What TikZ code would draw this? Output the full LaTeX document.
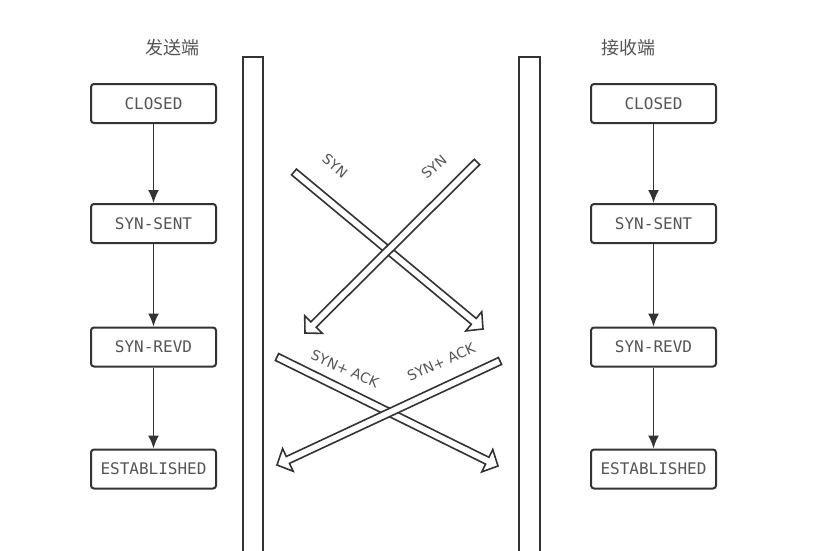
\documentclass[tikz,border=0pt]{standalone}
\usepackage{fontspec}
\setmainfont{DejaVu Sans}
\newfontfamily\boxfont{DejaVu Sans Mono}
\newfontfamily\cjkfont{Noto Sans CJK SC}
\usetikzlibrary{calc,arrows.meta}
\definecolor{ink}{HTML}{333333}
\definecolor{txt}{HTML}{555555}
\tikzset{
  statebox/.style={draw=ink,line width=2pt,rounded corners=3pt,fill=white,
    minimum width=125pt,minimum height=39pt,inner sep=0pt,
    font=\boxfont\fontsize{16}{16}\selectfont,text=txt},
  bar/.style={draw=ink,line width=1.8pt},
  flow/.style={draw=ink,line width=1.8pt,-{Latex[length=13pt,width=11pt]}},
  title/.style={font=\cjkfont\fontsize{18}{18}\selectfont,text=txt},
  msg/.style={font=\fontsize{14}{14}\selectfont,text=txt,inner sep=0pt},
  hollow/.style={draw=ink,line width=1.6pt,fill=white,line join=miter}
}
\newcommand{\hollowarrow}[2]{%
  \coordinate (hc) at ($(#2)!12pt!(#1)$);
  \path[hollow] ($(#1)!3.8pt!90:(#2)$) -- ($(hc)!3.8pt!90:(#2)$) -- ($(hc)!12.5pt!90:(#2)$)
     -- (#2) -- ($(hc)!12.5pt!-90:(#2)$) -- ($(hc)!3.8pt!-90:(#2)$) -- ($(#1)!3.8pt!-90:(#2)$) -- cycle;
}
\begin{document}
\begin{tikzpicture}[x=1pt,y=-1pt]
\useasboundingbox (0,0) rectangle (816,551);
\fill[white] (0,0) rectangle (816,551);
% titles
\node[title] (t1) at (172,48) {发送端};
\node[title] (t2) at (628,48) {接收端};
% bars
\draw[bar] (243,557) -- (243,57) -- (263,57) -- (263,557);
\draw[bar] (540,557) -- (540,57) -- (519,57) -- (519,557);
% left states
\node[statebox] (l1) at (153.5,103.5) {CLOSED};
\node[statebox] (l2) at (153.5,223.5) {SYN-SENT};
\node[statebox] (l3) at (153.5,347) {SYN-REVD};
\node[statebox] (l4) at (153.5,469) {ESTABLISHED};
\draw[flow] (l1) -- (l2);
\draw[flow] (l2) -- (l3);
\draw[flow] (l3) -- (l4);
% right states
\node[statebox] (r1) at (653.5,103.5) {CLOSED};
\node[statebox] (r2) at (653.5,223.5) {SYN-SENT};
\node[statebox] (r3) at (653.5,347) {SYN-REVD};
\node[statebox] (r4) at (653.5,469) {ESTABLISHED};
\draw[flow] (r1) -- (r2);
\draw[flow] (r2) -- (r3);
\draw[flow] (r3) -- (r4);
% message arrows
\coordinate (a1t) at (294,172); \coordinate (a1h) at (483,329);
\coordinate (a2t) at (477,162); \coordinate (a2h) at (305,333);
\coordinate (a3t) at (277,357); \coordinate (a3h) at (498,466);
\coordinate (a4t) at (500,361); \coordinate (a4h) at (277,465);
\hollowarrow{a1t}{a1h}
\hollowarrow{a2t}{a2h}
\hollowarrow{a3t}{a3h}
\hollowarrow{a4t}{a4h}
\node[msg,rotate=-40] (m1) at (335,166) {SYN};
\node[msg,rotate=40] (m2) at (434,167) {SYN};
\node[msg,rotate=-24] (m3) at (345,369) {SYN+ ACK};
\node[msg,rotate=24] (m4) at (441,362) {SYN+ ACK};
\end{tikzpicture}
\end{document}
